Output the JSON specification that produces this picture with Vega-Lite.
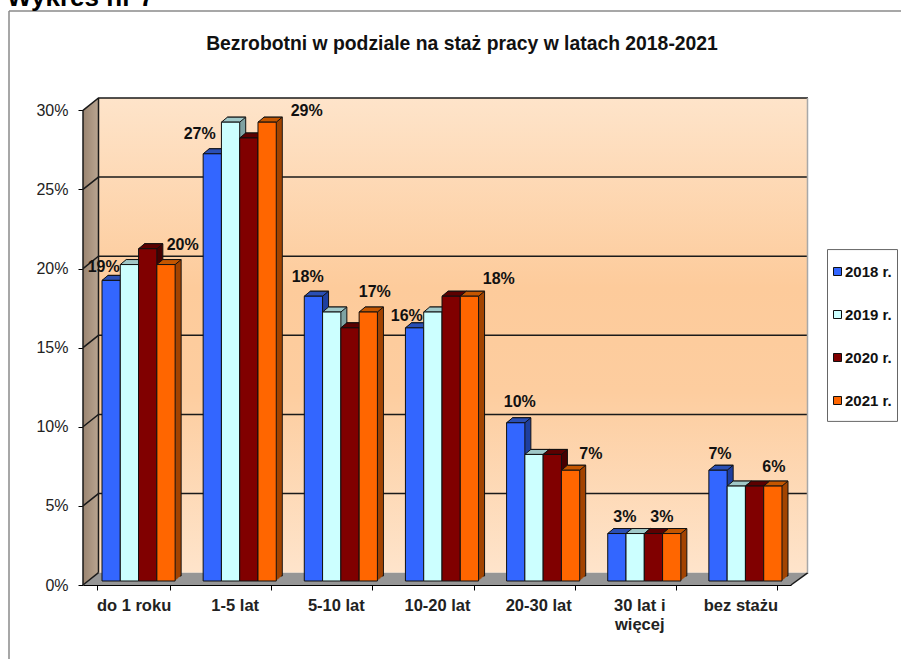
{
"$schema":"https://vega.github.io/schema/vega-lite/v6.json",
"width":725,"height":487,
"autosize":"none",
"padding":{"left":83,"top":98,"right":93,"bottom":74},
"background":"white",
"config":{"view":{"stroke":null},"font":"Liberation Sans"},
"datasets":{
"bars":[
{"kat":"do 1 roku","rok":"2018 r.","v":19},{"kat":"do 1 roku","rok":"2019 r.","v":20},{"kat":"do 1 roku","rok":"2020 r.","v":21},{"kat":"do 1 roku","rok":"2021 r.","v":20},
{"kat":"1-5 lat","rok":"2018 r.","v":27},{"kat":"1-5 lat","rok":"2019 r.","v":29},{"kat":"1-5 lat","rok":"2020 r.","v":28},{"kat":"1-5 lat","rok":"2021 r.","v":29},
{"kat":"5-10 lat","rok":"2018 r.","v":18},{"kat":"5-10 lat","rok":"2019 r.","v":17},{"kat":"5-10 lat","rok":"2020 r.","v":16},{"kat":"5-10 lat","rok":"2021 r.","v":17},
{"kat":"10-20 lat","rok":"2018 r.","v":16},{"kat":"10-20 lat","rok":"2019 r.","v":17},{"kat":"10-20 lat","rok":"2020 r.","v":18},{"kat":"10-20 lat","rok":"2021 r.","v":18},
{"kat":"20-30 lat","rok":"2018 r.","v":10},{"kat":"20-30 lat","rok":"2019 r.","v":8},{"kat":"20-30 lat","rok":"2020 r.","v":8},{"kat":"20-30 lat","rok":"2021 r.","v":7},
{"kat":"30 lat i więcej","rok":"2018 r.","v":3},{"kat":"30 lat i więcej","rok":"2019 r.","v":3},{"kat":"30 lat i więcej","rok":"2020 r.","v":3},{"kat":"30 lat i więcej","rok":"2021 r.","v":3},
{"kat":"bez stażu","rok":"2018 r.","v":7},{"kat":"bez stażu","rok":"2019 r.","v":6},{"kat":"bez stażu","rok":"2020 r.","v":6},{"kat":"bez stażu","rok":"2021 r.","v":6}
]},
"layer":[
{"layer":[
{"data":{"values":[{"d":0,"lo":0,"hi":30},{"d":15.5,"lo":0.78,"hi":30.78}]},
 "mark":{"type":"area","line":false,"color":{"gradient":"linear","x1":0,"x2":1,"y1":0,"y2":0,"stops":[{"offset":0,"color":"#9a8470"},{"offset":1,"color":"#b9a591"}]}},
 "encoding":{"x":{"field":"d","type":"quantitative","scale":{"domain":[0,725],"nice":false,"zero":false},"axis":null},
 "y":{"field":"lo","type":"quantitative","scale":{"domain":[0,30.78],"nice":false},"axis":{"title":null,"domain":false,"grid":false,"values":[0,5,10,15,20,25,30],"labelExpr":"datum.value+'%'","labelFont":"Liberation Sans","labelFontSize":16,"labelColor":"#222222","tickColor":"#000000","tickSize":5,"labelPadding":10}},
 "y2":{"field":"hi"}}},
{"data":{"values":[{"x1":15.5,"x2":725,"y1":0.78,"y2":30.78}]},
 "mark":{"type":"rect","color":{"gradient":"linear","x1":0,"x2":0,"y1":0,"y2":1,"stops":[{"offset":0,"color":"#fee4ca"},{"offset":0.4,"color":"#fdcb9b"},{"offset":0.62,"color":"#fdcd9f"},{"offset":1,"color":"#fee4cb"}]}},
 "encoding":{"x":{"field":"x1","type":"quantitative","axis":null},"x2":{"field":"x2"},"y":{"field":"y1","type":"quantitative"},"y2":{"field":"y2"}}},
{"data":{"values":[{"d":0,"lo":0,"hi":0},{"d":15.5,"lo":0,"hi":0.78},{"d":708,"lo":0,"hi":0.78},{"d":725,"lo":0.78,"hi":0.78}]},
 "mark":{"type":"area","color":"#969696"},
 "encoding":{"x":{"field":"d","type":"quantitative","axis":null},"y":{"field":"lo","type":"quantitative"},"y2":{"field":"hi"}}},
{"data":{"values":[
 {"g":"g0","d":0,"y":0},{"g":"g0","d":15.5,"y":0.78},
 {"g":"g5","d":0,"y":5},{"g":"g5","d":15.5,"y":5.78},{"g":"g5","d":725,"y":5.78},
 {"g":"g10","d":0,"y":10},{"g":"g10","d":15.5,"y":10.78},{"g":"g10","d":725,"y":10.78},
 {"g":"g15","d":0,"y":15},{"g":"g15","d":15.5,"y":15.78},{"g":"g15","d":725,"y":15.78},
 {"g":"g20","d":0,"y":20},{"g":"g20","d":15.5,"y":20.78},{"g":"g20","d":725,"y":20.78},
 {"g":"g25","d":0,"y":25},{"g":"g25","d":15.5,"y":25.78},{"g":"g25","d":725,"y":25.78},
 {"g":"g30","d":0,"y":30},{"g":"g30","d":15.5,"y":30.78},{"g":"g30","d":725,"y":30.78},
 {"g":"oy","d":0,"y":0},{"g":"oy","d":0,"y":30},
 {"g":"fr","d":708,"y":0},{"g":"fr","d":725,"y":0.78},
 {"g":"wl","d":15.5,"y":0.78},{"g":"wl","d":15.5,"y":30.78}
 ]},
 "mark":{"type":"line","color":"#1a1a1a","strokeWidth":1.5,"interpolate":"linear"},
 "encoding":{"x":{"field":"d","type":"quantitative","axis":null},"y":{"field":"y","type":"quantitative"},"detail":{"field":"g"}}},
{"data":{"values":[{"g":"a","d":-74,"y":-5},{"g":"a","d":-74,"y":36.28},{"g":"b","d":-74,"y":36.28},{"g":"b","d":818,"y":36.28}]},
 "mark":{"type":"line","color":"#8a8a8a","strokeWidth":1.5},
 "encoding":{"x":{"field":"d","type":"quantitative","axis":null},"y":{"field":"y","type":"quantitative"},"detail":{"field":"g"}}},
{"data":{"values":[{"d":724.5,"y":0.78},{"d":724.5,"y":30.78}]},
 "mark":{"type":"line","color":"#a8a8a8","strokeWidth":1.5},
 "encoding":{"x":{"field":"d","type":"quantitative","axis":null},"y":{"field":"y","type":"quantitative"}}},
{"data":{"values":[{"x1":744.5,"x2":814.5,"y1":10.34,"y2":21.2}]},
 "mark":{"type":"rect","fill":"white","stroke":"#666666","strokeWidth":1},
 "encoding":{"x":{"field":"x1","type":"quantitative","axis":null},"x2":{"field":"x2"},"y":{"field":"y1","type":"quantitative"},"y2":{"field":"y2"}}},
{"data":{"values":[{"t":"Bezrobotni w podziale na staż pracy w latach 2018-2021","d":379,"y":34.2}]},
 "mark":{"type":"text","font":"Liberation Sans","fontWeight":"bold","fontSize":19.35,"align":"center","baseline":"middle","color":"#111111"},
 "encoding":{"x":{"field":"d","type":"quantitative","axis":null},"y":{"field":"y","type":"quantitative"},"text":{"field":"t"}}},
{"data":{"values":[{"t":"Wykres nr 7","d":-76,"y":36.6}]},
 "mark":{"type":"text","font":"Liberation Sans","fontWeight":"bold","fontSize":26,"align":"left","baseline":"alphabetic","color":"#000000"},
 "encoding":{"x":{"field":"d","type":"quantitative","axis":null},"y":{"field":"y","type":"quantitative"},"text":{"field":"t"}}}
]},
{"data":{"name":"bars"},"mark":{"type":"bar","stroke":"#111111","strokeWidth":1},
 "encoding":{"x":{"field":"kat","type":"nominal","sort":null,"axis":null,"scale":{"range":[11,719],"paddingInner":0.277,"paddingOuter":0.1385}},"xOffset":{"field":"rok","type":"nominal","sort":null},
 "y":{"field":"v","type":"quantitative","stack":null,"axis":null,"scale":{"domain":[0,30.78],"nice":false,"range":[478,-9]}},
 "fill":{"field":"rok","type":"nominal","legend":null,"scale":{"domain":["2018 r.","2019 r.","2020 r.","2021 r."],"range":["#1f3f9f","#7fa3a3","#470000","#a34400"]}}}},
{"data":{"name":"bars"},"mark":{"type":"bar"},
 "encoding":{"x":{"field":"kat","type":"nominal","sort":null,"axis":null,"scale":{"range":[10,718],"paddingInner":0.277,"paddingOuter":0.1385}},"xOffset":{"field":"rok","type":"nominal","sort":null},
 "y":{"field":"v","type":"quantitative","stack":null,"axis":null,"scale":{"domain":[0,30.78],"nice":false,"range":[478.8,-8.2]}},
 "fill":{"field":"rok","type":"nominal","legend":null,"scale":{"domain":["2018 r.","2019 r.","2020 r.","2021 r."],"range":["#1f3f9f","#7fa3a3","#470000","#a34400"]}}}},
{"data":{"name":"bars"},"mark":{"type":"bar"},
 "encoding":{"x":{"field":"kat","type":"nominal","sort":null,"axis":null,"scale":{"range":[9,717],"paddingInner":0.277,"paddingOuter":0.1385}},"xOffset":{"field":"rok","type":"nominal","sort":null},
 "y":{"field":"v","type":"quantitative","stack":null,"axis":null,"scale":{"domain":[0,30.78],"nice":false,"range":[479.6,-7.4]}},
 "fill":{"field":"rok","type":"nominal","legend":null,"scale":{"domain":["2018 r.","2019 r.","2020 r.","2021 r."],"range":["#1f3f9f","#7fa3a3","#470000","#a34400"]}}}},
{"data":{"name":"bars"},"mark":{"type":"bar"},
 "encoding":{"x":{"field":"kat","type":"nominal","sort":null,"axis":null,"scale":{"range":[8,716],"paddingInner":0.277,"paddingOuter":0.1385}},"xOffset":{"field":"rok","type":"nominal","sort":null},
 "y":{"field":"v","type":"quantitative","stack":null,"axis":null,"scale":{"domain":[0,30.78],"nice":false,"range":[480.4,-6.6]}},
 "fill":{"field":"rok","type":"nominal","legend":null,"scale":{"domain":["2018 r.","2019 r.","2020 r.","2021 r."],"range":["#1f3f9f","#7fa3a3","#470000","#a34400"]}}}},
{"data":{"name":"bars"},"mark":{"type":"bar"},
 "encoding":{"x":{"field":"kat","type":"nominal","sort":null,"axis":null,"scale":{"range":[7,715],"paddingInner":0.277,"paddingOuter":0.1385}},"xOffset":{"field":"rok","type":"nominal","sort":null},
 "y":{"field":"v","type":"quantitative","stack":null,"axis":null,"scale":{"domain":[0,30.78],"nice":false,"range":[481.2,-5.8]}},
 "fill":{"field":"rok","type":"nominal","legend":null,"scale":{"domain":["2018 r.","2019 r.","2020 r.","2021 r."],"range":["#1f3f9f","#7fa3a3","#470000","#a34400"]}}}},
{"data":{"name":"bars"},"mark":{"type":"bar"},
 "encoding":{"x":{"field":"kat","type":"nominal","sort":null,"axis":null,"scale":{"range":[6,714],"paddingInner":0.277,"paddingOuter":0.1385}},"xOffset":{"field":"rok","type":"nominal","sort":null},
 "y":{"field":"v","type":"quantitative","stack":null,"axis":null,"scale":{"domain":[0,30.78],"nice":false,"range":[482,-5]}},
 "fill":{"field":"rok","type":"nominal","legend":null,"scale":{"domain":["2018 r.","2019 r.","2020 r.","2021 r."],"range":["#1f3f9f","#7fa3a3","#470000","#a34400"]}}}},
{"data":{"name":"bars"},
 "encoding":{
  "x":{"field":"kat","type":"nominal","sort":null,"axis":null,"scale":{"range":[5,713],"paddingInner":0.277,"paddingOuter":0.1385}},
  "xOffset":{"field":"rok","type":"nominal","sort":null},
  "y":{"field":"v","type":"quantitative","stack":null,"axis":null,"scale":{"domain":[0,30.78],"nice":false,"range":[483,-4]}}
 },
 "layer":[
 {"mark":{"type":"point","filled":true,"opacity":1,"shape":"M-9.15,0 L-3.15,-5 L15.15,-5 L9.15,0 Z","size":4,"stroke":"#111111","strokeWidth":1},
  "encoding":{"fill":{"field":"rok","type":"nominal","legend":null,"scale":{"domain":["2018 r.","2019 r.","2020 r.","2021 r."],"range":["#2a4fb5","#a0c8c8","#5c0000","#c45600"]}}}},
 {"mark":{"type":"bar","stroke":"#111111","strokeWidth":1},
  "encoding":{"color":{"field":"rok","type":"nominal","scale":{"domain":["2018 r.","2019 r.","2020 r.","2021 r."],"range":["#3366ff","#ccffff","#800000","#ff6600"]},
    "legend":{"title":null,"orient":"none","legendX":747,"legendY":166,"symbolType":"square","symbolSize":64,"symbolStrokeColor":"#111111","symbolStrokeWidth":1,"labelFont":"Liberation Sans","labelFontWeight":"bold","labelFontSize":15,"labelColor":"#111111","labelOffset":0,"rowPadding":27,"padding":0}}}}
 ],
 "resolve":{"scale":{"fill":"independent"}}
},
{"data":{"name":"bars"},
 "transform":[{"calculate":"datum.v+'%'","as":"lab"}],
 "encoding":{
  "x":{"field":"kat","type":"nominal","sort":null,"scale":{"range":[0,708],"paddingInner":0.277,"paddingOuter":0.1385},"axis":{"title":null,"labelAngle":0,"tickBand":"extent","domainColor":"#000000","tickColor":"#000000","tickSize":5,"labelFont":"Liberation Sans","labelFontWeight":"bold","labelFontSize":16.5,"labelColor":"#222222","labelPadding":7,"labelLineHeight":19,"labelExpr":"datum.label=='30 lat i więcej'?['30 lat i','więcej']:datum.label"}},
  "xOffset":{"field":"rok","type":"nominal","sort":null,"scale":{"domain":["2018 r.","2019 r.","2020 r.","2021 r."]}},
  "y":{"field":"v","type":"quantitative","axis":null,"scale":{"domain":[0,30.78],"nice":false}},
  "text":{"field":"lab"}
 },
 "layer":[
  {"transform":[{"filter":"datum.kat=='do 1 roku'&&datum.rok=='2018 r.'"}],"mark":{"type":"text","font":"Liberation Sans","fontWeight":"bold","fontSize":16,"baseline":"middle","color":"#111111","dx":-2.5,"dy":-17}},
  {"transform":[{"filter":"datum.kat=='do 1 roku'&&datum.rok=='2021 r.'"}],"mark":{"type":"text","font":"Liberation Sans","fontWeight":"bold","fontSize":16,"baseline":"middle","color":"#111111","dx":21.7,"dy":-24}},
  {"transform":[{"filter":"datum.kat=='1-5 lat'&&datum.rok=='2018 r.'"}],"mark":{"type":"text","font":"Liberation Sans","fontWeight":"bold","fontSize":16,"baseline":"middle","color":"#111111","dx":-7.6,"dy":-24}},
  {"transform":[{"filter":"datum.kat=='1-5 lat'&&datum.rok=='2021 r.'"}],"mark":{"type":"text","font":"Liberation Sans","fontWeight":"bold","fontSize":16,"baseline":"middle","color":"#111111","dx":44.6,"dy":-15}},
  {"transform":[{"filter":"datum.kat=='5-10 lat'&&datum.rok=='2018 r.'"}],"mark":{"type":"text","font":"Liberation Sans","fontWeight":"bold","fontSize":16,"baseline":"middle","color":"#111111","dx":-0.7,"dy":-23}},
  {"transform":[{"filter":"datum.kat=='5-10 lat'&&datum.rok=='2021 r.'"}],"mark":{"type":"text","font":"Liberation Sans","fontWeight":"bold","fontSize":16,"baseline":"middle","color":"#111111","dx":11.5,"dy":-24}},
  {"transform":[{"filter":"datum.kat=='10-20 lat'&&datum.rok=='2018 r.'"}],"mark":{"type":"text","font":"Liberation Sans","fontWeight":"bold","fontSize":16,"baseline":"middle","color":"#111111","dx":-2.8,"dy":-16}},
  {"transform":[{"filter":"datum.kat=='10-20 lat'&&datum.rok=='2021 r.'"}],"mark":{"type":"text","font":"Liberation Sans","fontWeight":"bold","fontSize":16,"baseline":"middle","color":"#111111","dx":34.4,"dy":-21}},
  {"transform":[{"filter":"datum.kat=='20-30 lat'&&datum.rok=='2018 r.'"}],"mark":{"type":"text","font":"Liberation Sans","fontWeight":"bold","fontSize":16,"baseline":"middle","color":"#111111","dx":9.1,"dy":-25}},
  {"transform":[{"filter":"datum.kat=='20-30 lat'&&datum.rok=='2021 r.'"}],"mark":{"type":"text","font":"Liberation Sans","fontWeight":"bold","fontSize":16,"baseline":"middle","color":"#111111","dx":25.3,"dy":-20}},
  {"transform":[{"filter":"datum.kat=='30 lat i więcej'&&datum.rok=='2018 r.'"}],"mark":{"type":"text","font":"Liberation Sans","fontWeight":"bold","fontSize":16,"baseline":"middle","color":"#111111","dx":13,"dy":-21}},
  {"transform":[{"filter":"datum.kat=='30 lat i więcej'&&datum.rok=='2021 r.'"}],"mark":{"type":"text","font":"Liberation Sans","fontWeight":"bold","fontSize":16,"baseline":"middle","color":"#111111","dx":-4.8,"dy":-21}},
  {"transform":[{"filter":"datum.kat=='bez stażu'&&datum.rok=='2018 r.'"}],"mark":{"type":"text","font":"Liberation Sans","fontWeight":"bold","fontSize":16,"baseline":"middle","color":"#111111","dx":7,"dy":-20}},
  {"transform":[{"filter":"datum.kat=='bez stażu'&&datum.rok=='2021 r.'"}],"mark":{"type":"text","font":"Liberation Sans","fontWeight":"bold","fontSize":16,"baseline":"middle","color":"#111111","dx":6,"dy":-23}}
 ]
}
],
"resolve":{"scale":{"x":"independent","y":"independent","xOffset":"independent","fill":"independent"},"axis":{"x":"independent","y":"independent"}}
}
